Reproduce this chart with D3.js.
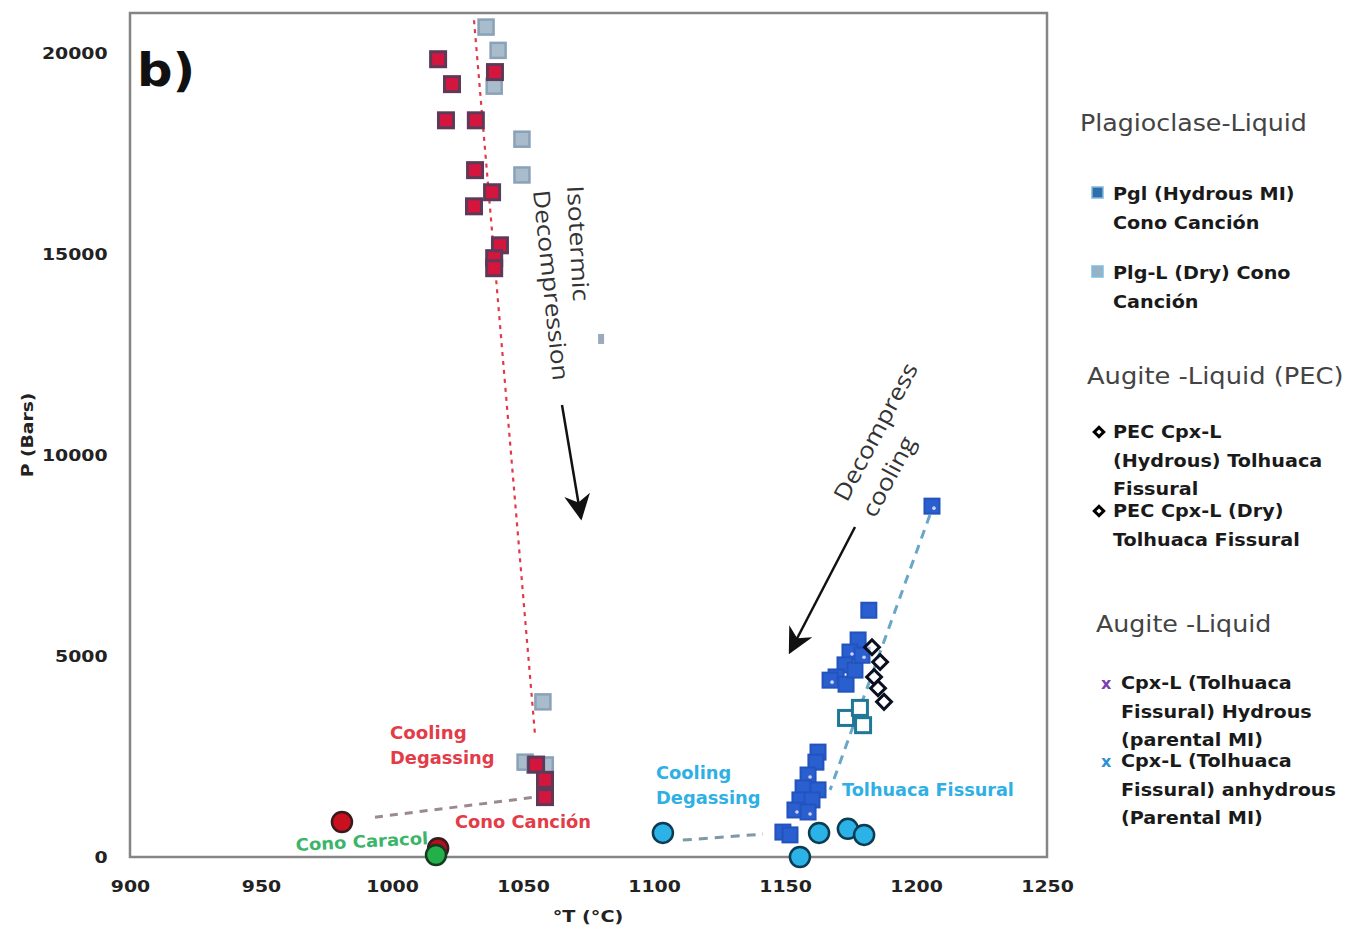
<!DOCTYPE html>
<html><head><meta charset="utf-8">
<script src="https://cdn.jsdelivr.net/npm/d3@7"></script>
<style>body{margin:0;background:#fff}svg{display:block}</style>
</head><body>
<svg id="c" width="1349" height="930"></svg>
<script>
// ---- data ----
const xTicks = [900, 950, 1000, 1050, 1100, 1150, 1200, 1250];
const yTicks = [0, 5000, 10000, 15000, 20000];
const plgHydrous = [[1017.6,19850],[1022.9,19230],[1020.6,18330],[1032,18330],[1031.7,17090],[1031.3,16190],[1038.2,16540],[1039.3,19530],[1041.2,15220],[1039,14900],[1039,14650],[1055,2300],[1058.4,1920],[1058.4,1490]];
const plgDry = [[1035.9,20650],[1040.5,20070],[1039,19180],[1049.6,17860],[1049.6,16970],[1057.6,3860],[1050.8,2360],[1054.5,2290],[1058.5,2290],[1058.4,1920],[1058.4,1490]];
const cpxHydrous = [[1206.1,8730],[1182,6140],[1177.9,5400],[1174.8,5100],[1172.9,4780],[1169.5,4480],[1167.2,4400],[1173.3,4300],[1176.7,4650],[1179.4,5020],[1162.6,2610],[1161.8,2360],[1158.8,2040],[1156.9,1720],[1155.7,1420],[1153.8,1170],[1162.6,1670],[1160.3,1420],[1158.8,1120],[1149.2,620],[1151.9,550]];
const cpxAnhydrous = [[1173.3,3460],[1178.6,3710],[1179.8,3280]];
const pecCpx = [[1183.2,5220],[1186.3,4850],[1184.0,4480],[1185.5,4200],[1187.8,3860]];
const tolhuacaCircles = [[1103.4,600],[1155.7,0],[1163,600],[1174,700],[1180.2,550]];
const canconCircles = [[980.9,870]];
const caracolCircles = [[1017.6,220],[1016.8,50]];
const strayMark = [[1079.8,12890]];
const redTrend = [[1031.3,20820],[1054.6,3030]];
const canconTrend = [[993.5,990],[1054.6,1490]];
const blueTrend = [[1205.3,8510],[1167.2,1670]];
const blueTrend2 = [[1111,420],[1141.6,570]];

// ---- setup ----
const svg = d3.select('#c');
const L=130, R=1047, T=13, B=857;
const x = d3.scaleLinear().domain([900,1250]).range([L,R]);
const y = d3.scaleLinear().domain([0,21000]).range([B,T]);
const font = "'DejaVu Sans', Verdana, sans-serif";

// frame
svg.append('rect').attr('x',L).attr('y',T).attr('width',R-L).attr('height',B-T)
  .attr('fill','#fff').attr('stroke','#858585').attr('stroke-width',2.5);

// axes
const xa = svg.append('g').attr('transform',`translate(0,${B})`)
  .call(d3.axisBottom(x).tickValues(xTicks).tickSize(0).tickPadding(24).tickFormat(d3.format('d')));
const ya = svg.append('g').attr('transform',`translate(${L},0)`)
  .call(d3.axisLeft(y).tickValues(yTicks).tickSize(0).tickPadding(19).tickFormat(d3.format('d')));
[xa,ya].forEach(a=>{a.select('.domain').remove();
  a.selectAll('text').attr('font-family',font).attr('font-weight','bold').attr('font-size',16)
   .attr('fill','#222').attr('transform','scale(1.18,1)');});
ya.selectAll('text').attr('dy','0.35em');

function txt(xp,yp,s,opt){
  const g=svg.append('g').attr('transform',`translate(${xp},${yp}) rotate(${opt.rot||0}) scale(${opt.sx||1},1)`);
  const t=g.append('text').text(s)
   .attr('font-family',opt.family||font).attr('font-size',opt.size||16)
   .attr('font-weight',opt.weight||'normal').attr('fill',opt.fill||'#222');
  if(opt.anchor) t.attr('text-anchor',opt.anchor);
  return t;
}
txt(588,922,'°T (°C)',{size:16,weight:'bold',anchor:'middle',sx:1.2});
txt(33,435,'P (Bars)',{size:15,weight:'bold',anchor:'middle',sx:1.25,rot:-90});

// trend lines
const line = d3.line().x(d=>x(d[0])).y(d=>y(d[1]));
svg.append('path').attr('d',line(redTrend)).attr('stroke','#e03a4a').attr('stroke-width',2.2).attr('stroke-dasharray','4,5').attr('fill','none');
svg.append('path').attr('d',line(canconTrend)).attr('stroke','#9a8a90').attr('stroke-width',3).attr('stroke-dasharray','8,7').attr('fill','none');
svg.append('path').attr('d',line(blueTrend)).attr('stroke','#6aa6c8').attr('stroke-width',3).attr('stroke-dasharray','9,7').attr('fill','none');
svg.append('path').attr('d',line(blueTrend2)).attr('stroke','#7f98a6').attr('stroke-width',3).attr('stroke-dasharray','9,7').attr('fill','none');

// markers
const S=15;
function squares(data, fill, stroke, sw){
  svg.append('g').selectAll('rect').data(data).join('rect')
    .attr('x',d=>x(d[0])-S/2).attr('y',d=>y(d[1])-S/2).attr('width',S).attr('height',S)
    .attr('fill',fill).attr('stroke',stroke).attr('stroke-width',sw);
}
squares(plgDry,'#a9bccc','#8aa2b8',2.5);
squares(plgHydrous,'#d4163f','#5e3a58',3);
squares(cpxHydrous,'#2a5fd0','#2353bd',2);
svg.append('g').selectAll('circle').data(cpxHydrous.filter((d,i)=>i%3===0)).join('circle')
  .attr('cx',d=>x(d[0])+2).attr('cy',d=>y(d[1])+2).attr('r',1.8).attr('fill','#d8d0f0');
squares(cpxAnhydrous,'#ffffff','#1f7896',3);
svg.append('g').selectAll('path').data(pecCpx).join('path')
  .attr('d',d3.symbol().type(d3.symbolSquare).size(110))
  .attr('transform',d=>`translate(${x(d[0])},${y(d[1])}) rotate(45)`)
  .attr('fill','rgba(255,255,255,0.6)').attr('stroke','#0a1020').attr('stroke-width',3);
svg.append('g').selectAll('rect').data(strayMark).join('rect')
  .attr('x',d=>x(d[0])-3).attr('y',d=>y(d[1])-5).attr('width',6).attr('height',10).attr('fill','#9aaabb');

function circles(data, fill, stroke){
  svg.append('g').selectAll('circle').data(data).join('circle')
    .attr('cx',d=>x(d[0])).attr('cy',d=>y(d[1])).attr('r',10)
    .attr('fill',fill).attr('stroke',stroke).attr('stroke-width',2.5);
}
circles(tolhuacaCircles,'#2bb2e6','#0d3b52');
circles(canconCircles,'#c8101e','#3a1a1a');
circles(caracolCircles.slice(0,1),'#b01020','#3a1a1a');
circles(caracolCircles.slice(1),'#23b04a','#153a20');

// annotations
txt(137,86,'b)',{size:46,weight:'bold',fill:'#111',sx:1.08});
const ann = "'Open Sans', 'Noto Sans', sans-serif";
txt(567,186,'Isotermic',{size:23,rot:87,family:ann,fill:'#333',sx:1.16});
txt(533,191,'Decompression',{size:23,rot:84,family:ann,fill:'#333',sx:1.14});
txt(847,503,'Decompress',{size:23,rot:-62,family:ann,fill:'#333',sx:1.14});
txt(875,519,'cooling',{size:23,rot:-62,family:ann,fill:'#333',sx:1.14});

const red='#e23c48', cyan='#2fb0e4', green='#3bb56a';
txt(390,739,'Cooling',{size:17,weight:'bold',fill:red,sx:1.07});
txt(390,764,'Degassing',{size:17,weight:'bold',fill:red,sx:1.05});
txt(455,828,'Cono Canción',{size:17,weight:'bold',fill:red,sx:1.05});
txt(296,851,'Cono Caracol',{size:17,weight:'bold',fill:green,rot:-3,sx:1.06});
txt(656,779,'Cooling',{size:17,weight:'bold',fill:cyan,sx:1.05});
txt(656,804,'Degassing',{size:17,weight:'bold',fill:cyan,sx:1.05});
txt(842,796,'Tolhuaca Fissural',{size:17,weight:'bold',fill:cyan,sx:1.04});

// arrows
const defs=svg.append('defs');
defs.append('marker').attr('id','ah').attr('viewBox','0 0 10 10').attr('refX',9).attr('refY',5)
  .attr('markerWidth',26).attr('markerHeight',26).attr('orient','auto').attr('markerUnits','userSpaceOnUse')
  .append('path').attr('d','M0,0 L10,5 L0,10 L3,5 Z').attr('fill','#111');
svg.append('line').attr('x1',562).attr('y1',405).attr('x2',581).attr('y2',518)
  .attr('stroke','#111').attr('stroke-width',2.5).attr('marker-end','url(#ah)');
svg.append('line').attr('x1',855).attr('y1',527).attr('x2',790).attr('y2',652)
  .attr('stroke','#111').attr('stroke-width',2.5).attr('marker-end','url(#ah)');

// legend
const lf = "'DejaVu Sans', Verdana, sans-serif";
const hf = "'DejaVu Sans', 'Open Sans', sans-serif";
txt(1080,131,'Plagioclase-Liquid',{size:23,family:hf,fill:'#444',sx:1.1});
txt(1087,384,'Augite -Liquid (PEC)',{size:23,family:hf,fill:'#444',sx:1.12});
txt(1096,632,'Augite -Liquid',{size:23,family:hf,fill:'#444',sx:1.1});
function leg(xp,y0,lines){lines.forEach((s,i)=>txt(xp,y0+i*28.7,s,{size:17,weight:'bold',family:lf,fill:'#1a1a1a',sx:1.13}));}
svg.append('rect').attr('x',1092).attr('y',187).attr('width',11).attr('height',11).attr('fill','#2f6ea8').attr('stroke','#7fb8e0').attr('stroke-width',1.5);
leg(1113,200,['Pgl (Hydrous MI)','Cono Canción']);
svg.append('rect').attr('x',1092).attr('y',266).attr('width',11).attr('height',11).attr('fill','#9ab0c4').attr('stroke','#78c0e0').attr('stroke-width',1.5);
leg(1113,279,['Plg-L (Dry) Cono','Canción']);
const dia=d3.symbol().type(d3.symbolSquare).size(45);
svg.append('path').attr('d',dia).attr('transform','translate(1099,432) rotate(45)').attr('fill','#fff').attr('stroke','#000').attr('stroke-width',3);
leg(1113,438,['PEC Cpx-L','(Hydrous) Tolhuaca','Fissural']);
svg.append('path').attr('d',dia).attr('transform','translate(1099,511) rotate(45)').attr('fill','#fff').attr('stroke','#000').attr('stroke-width',3);
leg(1113,517,['PEC Cpx-L (Dry)','Tolhuaca Fissural']);
txt(1101,689,'x',{size:16,weight:'bold',family:lf,fill:'#7a3fb0'});
leg(1121,689,['Cpx-L (Tolhuaca','Fissural) Hydrous','(parental MI)']);
txt(1101,767,'x',{size:16,weight:'bold',family:lf,fill:'#2f8fd8'});
leg(1121,767,['Cpx-L (Tolhuaca','Fissural) anhydrous','(Parental MI)']);
</script>
</body></html>
